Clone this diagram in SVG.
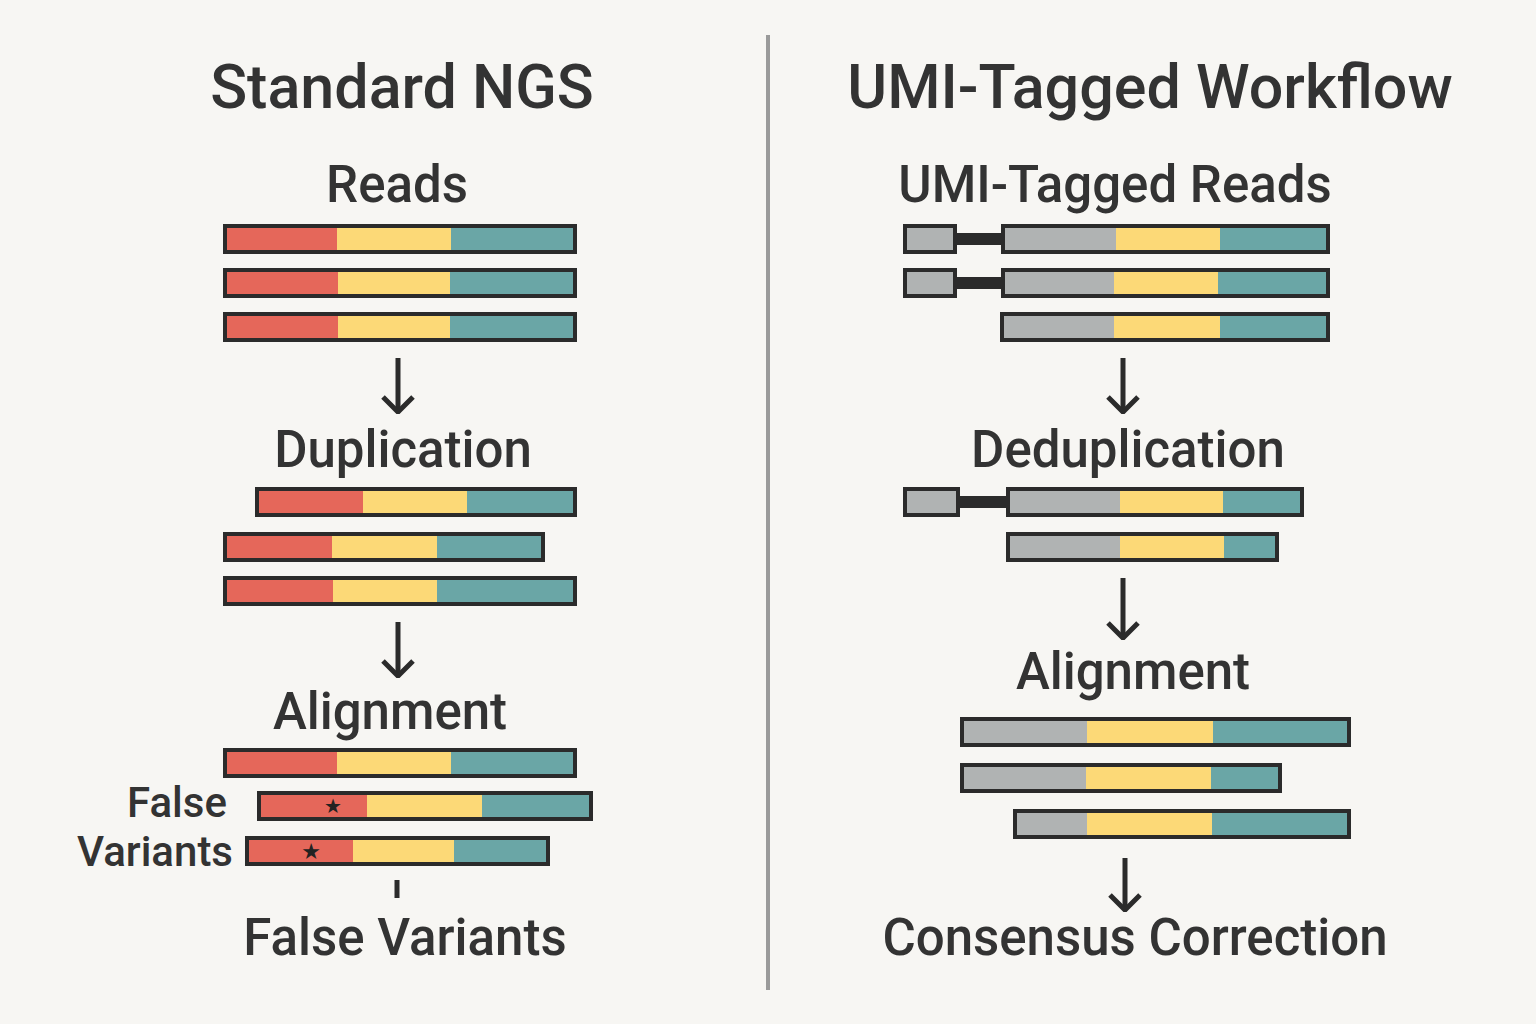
<svg xmlns="http://www.w3.org/2000/svg" width="1536" height="1024" viewBox="0 0 1536 1024">
<style>
.t{font-family:Roboto,"Liberation Sans",sans-serif;fill:#333;text-anchor:middle;font-weight:500}
.h{font-size:61px}.s{font-size:51px}.m{font-size:42px}
.r{fill:#e5675a}.y{fill:#fcd977}.g{fill:#6aa6a6}.u{fill:#b0b3b3}
.o{fill:none;stroke:#2b2b2b;stroke-width:4}
.a{stroke:#2b2b2b;stroke-width:5;fill:none}
</style>
<defs>
<marker id="ah" viewBox="0 0 20 34" refX="18" refY="17" markerWidth="20" markerHeight="34" markerUnits="userSpaceOnUse" orient="auto">
<polyline points="3,2 18,17 3,32" fill="none" stroke="#2b2b2b" stroke-width="5"/>
</marker>
</defs>
<rect width="1536" height="1024" fill="#f7f6f3"/>
<line x1="768" y1="35" x2="768" y2="990" stroke="#9a9a9a" stroke-width="4"/>
<g id="titles">
<text class="t h" x="402" y="108">Standard NGS</text>
<text class="t h" x="1150" y="108">UMI-Tagged Workflow</text>
</g>
<g id="left-reads">
<text class="t s" x="397" y="202">Reads</text>
<rect class="r" x="225" y="226" width="112" height="26"/><rect class="y" x="337" y="226" width="114" height="26"/><rect class="g" x="451" y="226" width="124" height="26"/><rect class="o" x="225" y="226" width="350" height="26"/>
<rect class="r" x="225" y="270" width="113" height="26"/><rect class="y" x="338" y="270" width="112" height="26"/><rect class="g" x="450" y="270" width="125" height="26"/><rect class="o" x="225" y="270" width="350" height="26"/>
<rect class="r" x="225" y="314" width="113" height="26"/><rect class="y" x="338" y="314" width="112" height="26"/><rect class="g" x="450" y="314" width="125" height="26"/><rect class="o" x="225" y="314" width="350" height="26"/>
</g>
<g id="left-dup">
<text class="t s" x="403" y="467">Duplication</text>
<rect class="r" x="257" y="489" width="106" height="26"/><rect class="y" x="363" y="489" width="104" height="26"/><rect class="g" x="467" y="489" width="108" height="26"/><rect class="o" x="257" y="489" width="318" height="26"/>
<rect class="r" x="225" y="534" width="107" height="26"/><rect class="y" x="332" y="534" width="105" height="26"/><rect class="g" x="437" y="534" width="106" height="26"/><rect class="o" x="225" y="534" width="318" height="26"/>
<rect class="r" x="225" y="578" width="108" height="26"/><rect class="y" x="333" y="578" width="104" height="26"/><rect class="g" x="437" y="578" width="138" height="26"/><rect class="o" x="225" y="578" width="350" height="26"/>
</g>
<g id="left-align">
<text class="t s" x="390" y="729">Alignment</text>
<rect class="r" x="225" y="750" width="112" height="26"/><rect class="y" x="337" y="750" width="114" height="26"/><rect class="g" x="451" y="750" width="124" height="26"/><rect class="o" x="225" y="750" width="350" height="26"/>
<rect class="r" x="259" y="793" width="108" height="26"/><rect class="y" x="367" y="793" width="115" height="26"/><rect class="g" x="482" y="793" width="109" height="26"/><rect class="o" x="259" y="793" width="332" height="26"/>
<rect class="r" x="247" y="838" width="106" height="26"/><rect class="y" x="353" y="838" width="101" height="26"/><rect class="g" x="454" y="838" width="94" height="26"/><rect class="o" x="247" y="838" width="301" height="26"/>
<text x="333" y="813" font-family="DejaVu Sans,sans-serif" font-size="20" text-anchor="middle" fill="#222">★</text>
<text x="311" y="859" font-family="DejaVu Sans,sans-serif" font-size="22" text-anchor="middle" fill="#222">★</text>
<text class="t m" x="177" y="817">False</text>
<text class="t m" x="155" y="866">Variants</text>
</g>
<g id="left-false">
<text class="t s" x="405" y="955">False Variants</text>
</g>
<g id="right-reads">
<text class="t s" x="1115" y="202">UMI-Tagged Reads</text>
<rect x="955" y="233" width="48" height="12" fill="#2b2b2b"/><rect class="u" x="905" y="226" width="50" height="26"/><rect class="o" x="905" y="226" width="50" height="26"/>
<rect class="u" x="1003" y="226" width="113" height="26"/><rect class="y" x="1116" y="226" width="104" height="26"/><rect class="g" x="1220" y="226" width="108" height="26"/><rect class="o" x="1003" y="226" width="325" height="26"/>
<rect x="955" y="277" width="48" height="12" fill="#2b2b2b"/><rect class="u" x="905" y="270" width="50" height="26"/><rect class="o" x="905" y="270" width="50" height="26"/>
<rect class="u" x="1003" y="270" width="111" height="26"/><rect class="y" x="1114" y="270" width="104" height="26"/><rect class="g" x="1218" y="270" width="110" height="26"/><rect class="o" x="1003" y="270" width="325" height="26"/>
<rect class="u" x="1002" y="314" width="112" height="26"/><rect class="y" x="1114" y="314" width="106" height="26"/><rect class="g" x="1220" y="314" width="108" height="26"/><rect class="o" x="1002" y="314" width="326" height="26"/>
</g>
<g id="right-dedup">
<text class="t s" x="1128" y="467">Deduplication</text>
<rect x="958" y="496" width="50" height="12" fill="#2b2b2b"/><rect class="u" x="905" y="489" width="53" height="26"/><rect class="o" x="905" y="489" width="53" height="26"/>
<rect class="u" x="1008" y="489" width="112" height="26"/><rect class="y" x="1120" y="489" width="103" height="26"/><rect class="g" x="1223" y="489" width="79" height="26"/><rect class="o" x="1008" y="489" width="294" height="26"/>
<rect class="u" x="1008" y="534" width="112" height="26"/><rect class="y" x="1120" y="534" width="104" height="26"/><rect class="g" x="1224" y="534" width="53" height="26"/><rect class="o" x="1008" y="534" width="269" height="26"/>
</g>
<g id="right-align">
<text class="t s" x="1133" y="689">Alignment</text>
<rect class="u" x="962" y="719" width="125" height="26"/><rect class="y" x="1087" y="719" width="126" height="26"/><rect class="g" x="1213" y="719" width="136" height="26"/><rect class="o" x="962" y="719" width="387" height="26"/>
<rect class="u" x="962" y="765" width="124" height="26"/><rect class="y" x="1086" y="765" width="125" height="26"/><rect class="g" x="1211" y="765" width="69" height="26"/><rect class="o" x="962" y="765" width="318" height="26"/>
<rect class="u" x="1015" y="811" width="72" height="26"/><rect class="y" x="1087" y="811" width="125" height="26"/><rect class="g" x="1212" y="811" width="137" height="26"/><rect class="o" x="1015" y="811" width="334" height="26"/>
</g>
<g id="right-consensus">
<text class="t s" x="1135" y="955">Consensus Correction</text>
</g>
<g id="connectors">
<line class="a" x1="398" y1="358" x2="398" y2="412" marker-end="url(#ah)"/>
<line class="a" x1="398" y1="622" x2="398" y2="676" marker-end="url(#ah)"/>
<line x1="397" y1="880" x2="397" y2="898" stroke="#2b2b2b" stroke-width="5"/>
<line class="a" x1="1123" y1="358" x2="1123" y2="412" marker-end="url(#ah)"/>
<line class="a" x1="1123" y1="578" x2="1123" y2="638" marker-end="url(#ah)"/>
<line class="a" x1="1125" y1="858" x2="1125" y2="910" marker-end="url(#ah)"/>
</g>
</svg>
